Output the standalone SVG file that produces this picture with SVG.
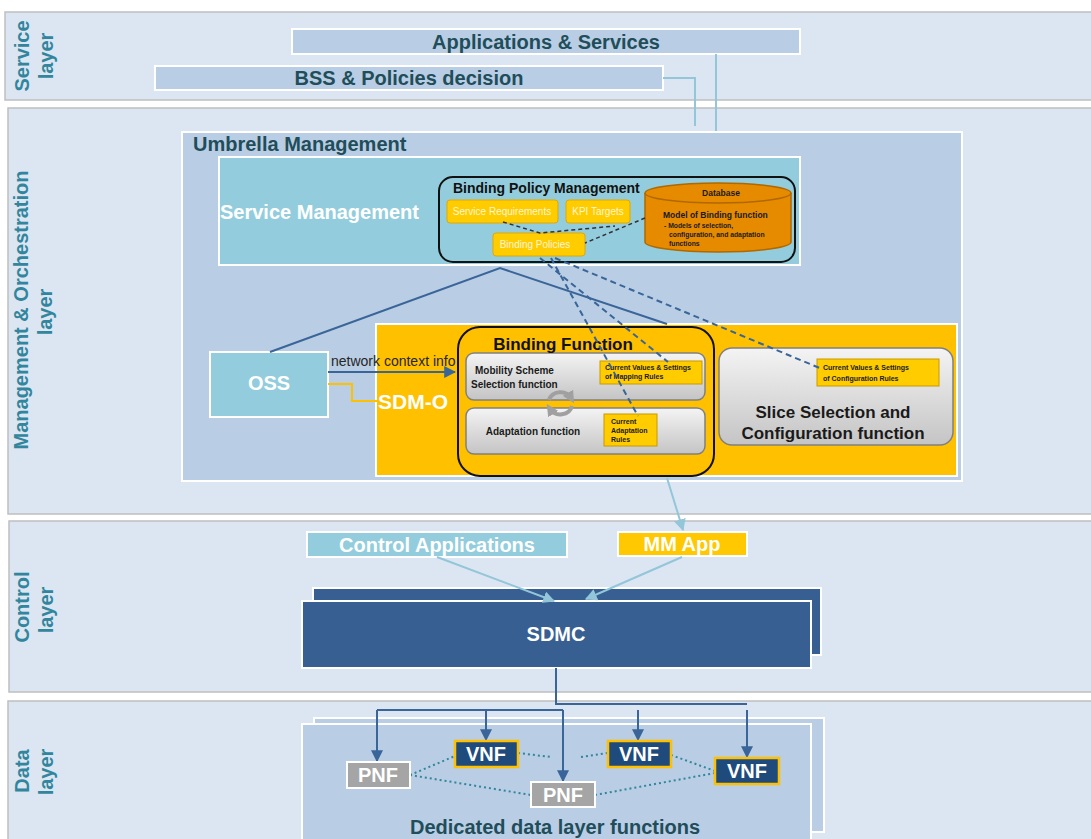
<svg xmlns="http://www.w3.org/2000/svg" width="1091" height="839" viewBox="0 0 1091 839">
<defs>
<style>
text{font-family:"Liberation Sans",Arial,sans-serif;}
.layer{fill:#dce6f2;stroke:#bfbfbf;stroke-width:1.5;}
.lbl{fill:#31859c;font-weight:bold;font-size:20px;text-anchor:middle;}
.steel{fill:#b9cde5;stroke:#ffffff;stroke-width:2;}
.teal{fill:#93cddd;stroke:#ffffff;stroke-width:2;}
.yel{fill:#ffc000;stroke:#ffffff;stroke-width:2;}
.dk{fill:#1f4e5a;font-weight:bold;font-size:20px;}
.wt{fill:#ffffff;font-weight:bold;font-size:20px;text-anchor:middle;}
.small{fill:#ffcc00;stroke:#e0a800;stroke-width:1;}
.smt{fill:#fff6d8;font-size:10px;text-anchor:middle;}
.rule{fill:#ffcc00;stroke:#c99a00;stroke-width:1;}
.rt{fill:#1a1a1a;font-weight:bold;font-size:7px;}
.fn{fill:url(#gray);stroke:#808080;stroke-width:1.5;}
.blk{fill:none;stroke:#111111;stroke-width:2;}
.sol{fill:none;stroke:#3a6598;stroke-width:2;}
.dash{fill:none;stroke:#3a6598;stroke-width:2;stroke-dasharray:6,4;}
.dashk{fill:none;stroke:#333333;stroke-width:1.5;stroke-dasharray:4,3;}
.dot{fill:none;stroke:#31859c;stroke-width:2;stroke-dasharray:2,3;}
.lb{fill:none;stroke:#92c6d8;stroke-width:2;}
.pnf{fill:#a5a5a5;stroke:#ffffff;stroke-width:2;}
.vnf{fill:#1f4a7c;stroke:#ffc000;stroke-width:2.5;}
</style>
<linearGradient id="gray" x1="0" y1="0" x2="0" y2="1">
<stop offset="0" stop-color="#f4f4f4"/>
<stop offset="1" stop-color="#c4c4c4"/>
</linearGradient>
<marker id="ab" viewBox="0 0 10 10" refX="9" refY="5" markerWidth="6" markerHeight="6" orient="auto"><path d="M0,0 L10,5 L0,10 z" fill="#3a6598"/></marker>
<marker id="al" viewBox="0 0 10 10" refX="9" refY="5" markerWidth="6" markerHeight="6" orient="auto"><path d="M0,0 L10,5 L0,10 z" fill="#92c6d8"/></marker>
<marker id="ag" viewBox="0 0 10 10" refX="5" refY="5" markerWidth="3" markerHeight="3" orient="auto"><path d="M0,0 L10,5 L0,10 z" fill="#a0a0a0"/></marker>
</defs>

<!-- Layers -->
<g id="service-layer">
<rect class="layer" x="5" y="12" width="1092" height="88"/>
<text class="lbl" transform="translate(29,56) rotate(-90)">Service</text>
<text class="lbl" transform="translate(53,56) rotate(-90)">layer</text>
</g>
<g id="mo-layer">
<rect class="layer" x="8" y="108" width="1090" height="406"/>
<text class="lbl" transform="translate(28,310) rotate(-90)">Management &amp; Orchestration</text>
<text class="lbl" transform="translate(52,312) rotate(-90)">layer</text>
</g>
<g id="control-layer">
<rect class="layer" x="9" y="521" width="1090" height="171"/>
<text class="lbl" transform="translate(29,607) rotate(-90)">Control</text>
<text class="lbl" transform="translate(53,610) rotate(-90)">layer</text>
</g>
<g id="data-layer">
<rect class="layer" x="8" y="701" width="1090" height="150"/>
<text class="lbl" transform="translate(29,771) rotate(-90)">Data</text>
<text class="lbl" transform="translate(53,772) rotate(-90)">layer</text>
</g>

<!-- Service layer nodes -->
<g id="apps">
<rect class="steel" x="292" y="29" width="508" height="25"/>
<text class="dk" x="546" y="49" text-anchor="middle">Applications &amp; Services</text>
</g>
<g id="bss">
<rect class="steel" x="155" y="66" width="508" height="24"/>
<text class="dk" x="409" y="85" text-anchor="middle">BSS &amp; Policies decision</text>
</g>

<!-- Umbrella -->
<g id="umbrella">
<rect class="steel" x="182" y="132" width="780" height="349"/>
<text class="dk" x="193" y="151">Umbrella Management</text>
</g>
<g id="service-management">
<rect class="teal" x="219" y="157" width="581" height="108"/>
<text x="220" y="219" fill="#ffffff" font-weight="bold" font-size="20">Service Management</text>
</g>
<g id="binding-policy-management">
<rect class="blk" x="439" y="177" width="356" height="85" rx="14"/>
<text x="453" y="193" fill="#111" font-weight="bold" font-size="14">Binding Policy Management</text>
</g>
<g id="service-requirements">
<rect class="small" x="447" y="200" width="111" height="23" rx="3"/>
<text class="smt" x="502" y="215">Service Requirements</text>
</g>
<g id="kpi-targets">
<rect class="small" x="566" y="200" width="64" height="23" rx="3"/>
<text class="smt" x="598" y="215">KPI Targets</text>
</g>
<g id="binding-policies">
<rect class="small" x="493" y="233" width="92" height="23" rx="3"/>
<text class="smt" x="535" y="248">Binding Policies</text>
</g>
<g id="database">
<path d="M645,193 L645,242 A73,10 0 0 0 791,242 L791,193" fill="#e68a00" stroke="#b06800" stroke-width="1.5"/>
<ellipse cx="718" cy="193" rx="73" ry="10" fill="#e68a00" stroke="#b06800" stroke-width="1.5"/>
<text x="721" y="196" fill="#1a1a1a" font-weight="bold" font-size="8.5" text-anchor="middle">Database</text>
<text x="663" y="218" fill="#1a1a1a" font-weight="bold" font-size="8.5">Model of Binding function</text>
<text x="664" y="228" fill="#1a1a1a" font-weight="bold" font-size="6.8">- Models of selection,</text>
<text x="669" y="237" fill="#1a1a1a" font-weight="bold" font-size="6.8">configuration, and adaptation</text>
<text x="669" y="246" fill="#1a1a1a" font-weight="bold" font-size="6.8">functions</text>
</g>

<g id="oss">
<rect class="teal" x="210" y="352" width="118" height="65"/>
<text class="wt" x="269" y="390">OSS</text>
</g>
<g id="sdm-o">
<rect class="yel" x="376" y="324" width="581" height="152"/>
<text x="378" y="409" fill="#ffffff" font-weight="bold" font-size="21">SDM-O</text>
</g>
<g id="binding-function">
<rect class="blk" x="458" y="327" width="256" height="149" rx="22"/>
</g>
<g id="mobility-scheme">
<rect class="fn" x="466" y="353" width="239" height="47" rx="8"/>
<text x="475" y="374" fill="#1a1a1a" font-weight="bold" font-size="10">Mobility Scheme</text>
<text x="471" y="388" fill="#1a1a1a" font-weight="bold" font-size="10">Selection function</text>
</g>
<text x="563" y="350" fill="#111" font-weight="bold" font-size="17" text-anchor="middle">Binding Function</text>
<g id="mapping-rules">
<rect class="rule" x="600" y="361" width="102" height="23"/>
<text class="rt" x="605" y="370">Current Values &amp; Settings</text>
<text class="rt" x="605" y="379">of Mapping Rules</text>
</g>
<g id="adaptation">
<rect class="fn" x="466" y="408" width="239" height="46" rx="8"/>
<text x="533" y="435" fill="#1a1a1a" font-weight="bold" font-size="10" text-anchor="middle">Adaptation function</text>
</g>
<g id="adaptation-rules">
<rect class="rule" x="604" y="414" width="53" height="32"/>
<text class="rt" x="611" y="424" font-size="7.3">Current</text>
<text class="rt" x="611" y="433" font-size="7.3">Adaptation</text>
<text class="rt" x="611" y="442" font-size="7.3">Rules</text>
</g>
<g id="cycle">
<path d="M549,400 A12,11 0 0 1 571,398" fill="none" stroke="#a0a0a0" stroke-width="4" marker-end="url(#ag)"/>
<path d="M572,406 A12,11 0 0 1 550,409" fill="none" stroke="#a0a0a0" stroke-width="4" marker-end="url(#ag)"/>
</g>
<g id="slice-selection">
<rect class="fn" x="719" y="348" width="234" height="97" rx="13"/>
<text x="833" y="418" fill="#1a1a1a" font-weight="bold" font-size="17" text-anchor="middle">Slice Selection and</text>
<text x="833" y="439" fill="#1a1a1a" font-weight="bold" font-size="17" text-anchor="middle">Configuration function</text>
</g>
<g id="config-rules">
<rect class="rule" x="817" y="359" width="122" height="27"/>
<text class="rt" x="823" y="370" font-size="8.5">Current Values &amp; Settings</text>
<text class="rt" x="823" y="381" font-size="8.5">of Configuration Rules</text>
</g>

<!-- Control layer -->
<g id="control-apps">
<rect class="teal" x="307" y="532" width="260" height="25"/>
<text class="wt" x="437" y="552">Control Applications</text>
</g>
<g id="mm-app">
<rect x="618" y="532" width="129" height="24" fill="#ffc800" stroke="#ffffff" stroke-width="2"/>
<text class="wt" x="682" y="551">MM App</text>
</g>
<g id="sdmc">
<rect x="313" y="588" width="508" height="67" fill="#375f92" stroke="#ffffff" stroke-width="2"/>
<rect x="302" y="601" width="509" height="67" fill="#375f92" stroke="#ffffff" stroke-width="2"/>
<text class="wt" x="556" y="641" font-size="19">SDMC</text>
</g>

<!-- Data layer -->
<g id="dedicated-data">
<rect x="314" y="718" width="510" height="114" fill="#b9cde5" stroke="#ffffff" stroke-width="2"/>
<rect x="302" y="724" width="509" height="120" fill="#b9cde5" stroke="#ffffff" stroke-width="2"/>
<text class="dk" x="555" y="834" text-anchor="middle">Dedicated data layer functions</text>
</g>

<!-- Connectors -->
<g id="connectors">
<path class="lb" d="M663,78 H695 V126"/>
<path class="lb" d="M716,54 V131"/>
<path class="dashk" d="M503,222 L540,233 L615,226"/>
<path class="dashk" d="M645,218 L585,243"/>
<path class="sol" d="M270,352 L500,268 L667,324"/>
<path class="dash" d="M551,258 L638,416"/>
<path class="dash" d="M540,258 L668,362"/>
<path class="dash" d="M555,258 L822,369"/>
<path class="sol" d="M328,372 H455" marker-end="url(#ab)"/>
<text x="331" y="366" fill="#262626" font-size="14">network context info</text>
<path d="M328,384 H352 V401 H377" fill="none" stroke="#ffc000" stroke-width="2"/>
<path class="lb" d="M667,478 L683,530" marker-end="url(#al)"/>
<path class="lb" d="M437,557 L554,601" marker-end="url(#al)"/>
<path class="lb" d="M682,557 L586,599" marker-end="url(#al)"/>
<path class="sol" d="M556,668 V704 H747"/>
<path class="sol" d="M377,710 H563"/>
<path class="sol" d="M377,710 V761" marker-end="url(#ab)"/>
<path class="sol" d="M486,710 V740" marker-end="url(#ab)"/>
<path class="sol" d="M563,710 V781" marker-end="url(#ab)"/>
<path class="sol" d="M638,710 V740" marker-end="url(#ab)"/>
<path class="sol" d="M747,710 V757" marker-end="url(#ab)"/>
<path class="dot" d="M410,775 L455,756"/>
<path class="dot" d="M410,775 L531,795"/>
<path class="dot" d="M518,753 L551,757"/>
<path class="dot" d="M581,757 L608,753"/>
<path class="dot" d="M671,755 L715,771"/>
<path class="dot" d="M595,795 L715,773"/>
</g>

<g id="pnf1">
<rect class="pnf" x="347" y="762" width="63" height="26"/>
<text class="wt" x="378" y="782" font-size="19">PNF</text>
</g>
<g id="vnf1">
<rect class="vnf" x="455" y="741" width="63" height="26"/>
<text class="wt" x="486" y="761" font-size="19">VNF</text>
</g>
<g id="pnf2">
<rect class="pnf" x="531" y="782" width="64" height="25"/>
<text class="wt" x="563" y="802" font-size="19">PNF</text>
</g>
<g id="vnf2">
<rect class="vnf" x="608" y="741" width="63" height="26"/>
<text class="wt" x="639" y="761" font-size="19">VNF</text>
</g>
<g id="vnf3">
<rect class="vnf" x="715" y="758" width="64" height="26"/>
<text class="wt" x="747" y="778" font-size="19">VNF</text>
</g>
</svg>
